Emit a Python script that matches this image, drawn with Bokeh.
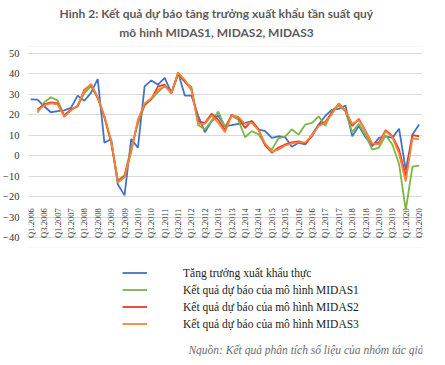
import numpy as np
from math import pi
from bokeh.plotting import figure
from bokeh.models import (ColumnDataSource, FixedTicker, Legend, LegendItem, Label,
                          Range1d, BoxAnnotation)
from bokeh.core.properties import value
from bokeh.embed import file_html
from bokeh.resources import INLINE

nan = float("nan")

# quarters Q1.2006 ... Q3.2020
years = list(range(2006, 2021))
quarters = [f"Q{q}.{y}" for y in years for q in (1, 2, 3, 4)][:59]
tick_labels = quarters[::2]

actual = [27.5, 27.3, 24.1, 21.2, 21.7, 22.1, 23.3, 29.3, 26.8, 30.6,
          37.4, 6.3, 8.2, -13.9, -19.3, 8.2, 3.9, 33.8, 36.7, 34.6,
          37.9, 30.6, 40.6, 29.3, 29.3, 19.5, 11.5, 16.8, 19.6, 14.4,
          14.9, 15.5, 16.0, 16.8, 12.8, 12.0, 8.7, 9.5, 9.0, 4.4,
          6.3, 5.5, 10.3, 15.2, 19.5, 22.5, 22.8, 24.5, 9.5, 14.5,
          9.0, 4.7, 8.7, 9.5, 8.7, 13.2, -7.0, 10.3, 15.2]

midas1 = [nan, 20.9, 26.0, 28.5, 27.0, 19.5, 22.5, 24.0, 30.5, 33.8,
          28.5, 18.5, 7.0, -12.0, -9.5, 4.0, 15.5, 24.5, 27.5, 31.0,
          34.0, 30.5, 39.5, 36.0, 33.5, 15.0, 12.8, 17.0, 21.5, 14.0,
          19.5, 17.5, 9.0, 12.0, 10.5, 5.5, 3.0, 8.5, 9.5, 12.8,
          10.3, 15.2, 16.0, 19.2, 14.5, 22.0, 24.5, 21.5, 11.5, 15.5,
          10.0, 3.0, 4.0, 10.0, 5.5, -4.0, -26.5, -5.3, -4.8]

midas2 = [nan, 22.5, 25.0, 26.0, 25.5, 19.5, 22.5, 24.1, 32.2, 34.6,
          28.0, 19.0, 6.5, -12.5, -10.0, 2.5, 17.0, 25.0, 27.7, 33.8,
          34.6, 30.6, 40.0, 36.2, 32.2, 16.8, 16.0, 20.5, 17.6, 12.5,
          20.0, 18.5, 13.5, 17.0, 13.0, 5.0, 1.5, 4.0, 5.5, 6.5,
          7.0, 6.0, 9.5, 15.0, 16.5, 21.0, 25.5, 22.0, 14.5, 18.0,
          12.0, 5.5, 6.5, 12.5, 9.5, 3.0, -10.0, 10.0, 9.5]

midas3 = [nan, 22.0, 24.5, 25.5, 25.0, 19.0, 22.0, 24.5, 31.5, 35.0,
          28.5, 19.5, 7.5, -13.0, -10.5, 2.0, 17.5, 25.5, 28.0, 32.0,
          34.0, 30.5, 40.5, 37.0, 32.0, 15.5, 15.5, 19.5, 16.0, 11.5,
          19.5, 19.0, 15.5, 16.0, 12.5, 6.0, 2.0, 3.0, 5.0, 6.0,
          6.5, 6.5, 10.0, 14.5, 16.0, 20.5, 25.5, 22.0, 15.5, 17.5,
          12.0, 6.0, 5.5, 12.0, 9.0, 1.0, -12.5, 8.5, 8.0]

series_names = ["Tăng trưởng xuất khẩu thực",
                "Kết quả dự báo của mô hình MIDAS1",
                "Kết quả dự báo của mô hình MIDAS2",
                "Kết quả dự báo của mô hình MIDAS3"]
colors = ["#4472C4", "#7AB648", "#EE3A24", "#F5843E"]

y_ticks = list(range(-40, 51, 10))

idx = list(range(len(quarters)))
src = ColumnDataSource(dict(x=idx, actual=actual, midas1=midas1,
                            midas2=midas2, midas3=midas3))
lab_src = ColumnDataSource(dict(x=idx[::2], y=[y_ticks[0]] * len(tick_labels),
                                text=tick_labels))

# the frame covers the full figure height; the value axis occupies 52..238 px of it
p = figure(width=429, height=356, output_backend="svg", toolbar_location=None,
           title=None,
           x_range=Range1d(-0.34, 58.5), y_range=Range1d(-97.78, 75.63),
           x_axis_location=None, min_border_left=22, min_border_right=7,
           min_border_top=0, min_border_bottom=0)
p.outline_line_color = None
p.background_fill_color = "white"
p.xgrid.visible = False
p.yaxis.ticker = FixedTicker(ticks=y_ticks)
p.ygrid.grid_line_color = "#d9d9d9"
p.ygrid.grid_line_width = 1
p.yaxis.axis_line_color = None
p.yaxis.major_tick_line_color = None
p.yaxis.minor_tick_line_color = None
p.yaxis.major_label_standoff = 3
p.yaxis.major_label_text_font = "Liberation Serif"
p.yaxis.major_label_text_font_size = "10.5px"
p.yaxis.major_label_text_color = "#333333"

# chart-area border
p.add_layout(BoxAnnotation(left=-30, right=406, top=310, bottom=109,
                           left_units="screen", right_units="screen",
                           top_units="screen", bottom_units="screen",
                           fill_alpha=0, line_color="#e3e3e3", line_width=1))

# category labels inside plot bottom
p.text(x="x", y="y", text="text", source=lab_src, angle=pi / 2,
       text_align="left", text_baseline="middle",
       text_font=value("Liberation Serif"), text_font_size="8.5px",
       text_color="#333333")

rs = []
for col, c in zip(["actual", "midas1", "midas2", "midas3"], colors):
    rs.append(p.line("x", col, source=src, line_color=c, line_width=1.8))

legend = Legend(items=[LegendItem(label=n, renderers=[r]) for n, r in zip(series_names, rs)],
                location=(94, 24), orientation="vertical",
                glyph_width=25, glyph_height=17, label_height=17, spacing=0,
                label_standoff=36, padding=0, margin=0,
                border_line_color=None, background_fill_alpha=0,
                label_text_font="Liberation Serif", label_text_font_size="11.5px",
                label_text_color="#222222")
p.add_layout(legend)

# title
p.add_layout(Label(x=188, y=343, x_units="screen", y_units="screen",
                   text="Hình 2: Kết quả dự báo tăng trưởng xuất khẩu tần suất quý",
                   text_align="center", text_baseline="middle",
                   text_font="Lato", text_font_style="bold", text_font_size="12px",
                   text_color="#5a5a5a"))
p.add_layout(Label(x=188, y=324, x_units="screen", y_units="screen",
                   text="mô hình MIDAS1, MIDAS2, MIDAS3",
                   text_align="center", text_baseline="middle",
                   text_font="Lato", text_font_style="bold", text_font_size="12px",
                   text_color="#5a5a5a"))
# source
p.add_layout(Label(x=395, y=7, x_units="screen", y_units="screen",
                   text="Nguồn: Kết quả phân tích số liệu của nhóm tác giả",
                   text_align="right", text_baseline="middle",
                   text_font="Liberation Serif", text_font_style="italic",
                   text_font_size="11.5px", text_color="#6b6b6b"))

open("out.html", "w").write(file_html(p, INLINE))
